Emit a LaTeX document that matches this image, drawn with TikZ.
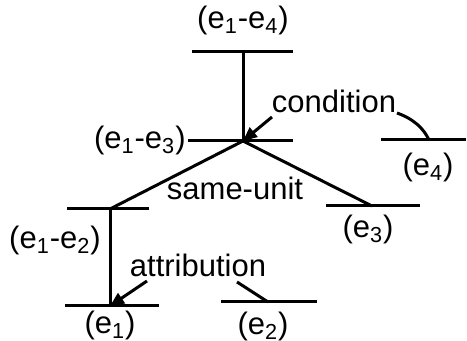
\documentclass[tikz,border=0pt]{standalone}
\usepackage{fontspec}
\setmainfont{Liberation Sans}
\usetikzlibrary{arrows.meta}

\begin{document}
\begin{tikzpicture}[x=0.5pt,y=-0.5pt,
  bar/.style={line width=1.5pt},
  rel/.style={line width=1.5pt,-{Triangle[length=7pt,width=6pt]}},
  lbl/.style={inner sep=0pt,font=\fontsize{15.5pt}{18pt}\selectfont}]
\path[use as bounding box] (0,0) rectangle (467,341);
% spans
\coordinate (t) at (243,52);
\coordinate (m) at (243,141);
\coordinate (l) at (110,209);
\coordinate (e1) at (110,306);
\coordinate (e3) at (372,206);
\coordinate (e4) at (429,140);
\coordinate (e2) at (268,302);
\draw[bar] (192,52) -- (293,52);
\draw[bar] (188,141) -- (293,141);
\draw[bar] (67,209) -- (149,209);
\draw[bar] (65,306) -- (159,306);
\draw[bar] (326,206) -- (420,206);
\draw[bar] (381,140) -- (466,140);
\draw[bar] (221,302) -- (317,302);
% tree
\draw[bar] (t) -- (m);
\draw[bar] (m) -- (l);
\draw[bar] (m) -- (e3);
\draw[bar] (l) -- (e1);
% labels
\node[lbl] (n14) at (243,20) {(e\textsubscript{1}-e\textsubscript{4})};
\node[lbl,anchor=east] (n13) at (186,140) {(e\textsubscript{1}-e\textsubscript{3})};
\node[lbl] (n12) at (55,240) {(e\textsubscript{1}-e\textsubscript{2})};
\node[lbl] (ne1) at (110,325) {(e\textsubscript{1})};
\node[lbl] (ne2) at (263,326) {(e\textsubscript{2})};
\node[lbl] (ne3) at (368,229) {(e\textsubscript{3})};
\node[lbl] (ne4) at (428,167) {(e\textsubscript{4})};
\node[lbl] (cond) at (334,101) {condition};
\node[lbl] (same) at (235,188) {same-unit};
\node[lbl] (attr) at (198,265) {attribution};
% relations
\coordinate (ca) at (272,117);
\coordinate (cb) at (397,113);
\coordinate (aa) at (147,281);
\coordinate (ab) at (237,282);
\draw[rel] (ca) -- (m);
\draw[rel] (aa) -- (e1);
\draw[bar] (cb) .. controls (414,119) and (424,129) .. (e4);
\draw[bar] (ab) -- (e2);
\end{tikzpicture}
\end{document}
